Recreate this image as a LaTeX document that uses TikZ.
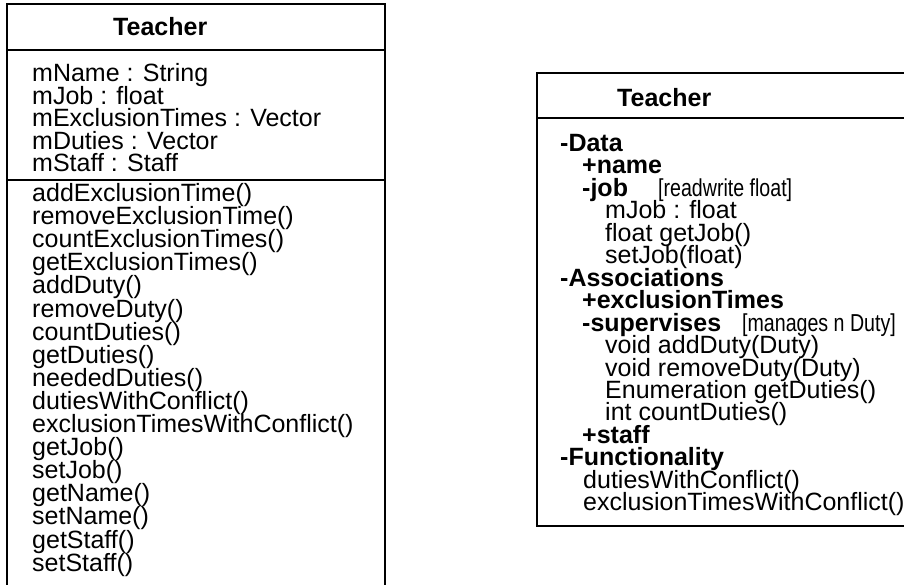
\documentclass[tikz,border=0pt]{standalone}
\usepackage{fontspec}
\setmainfont{Liberation Sans}
\newfontfamily\narrowfont[FakeStretch=0.8]{Liberation Sans}
\usetikzlibrary{positioning}

\begin{document}
\begin{tikzpicture}[
    x=1pt, y=-1pt,
    box/.style={draw, line width=1.3pt},
    member/.style={font=\fontsize{25}{22.5}\selectfont, anchor=base west, inner sep=0pt},
    classname/.style={member, font=\fontsize{25}{22.5}\selectfont\bfseries},
    note/.style={member, font=\fontsize{24.5}{22.5}\selectfont\narrowfont},
]
    \clip (0,0) rectangle (904,584);

    % Left class: plain attributes and operations
    \draw[box] (7,4) rectangle (385,620);
    \draw[box] (7,50) -- (385,50);
    \draw[box] (7,180) -- (385,180);
    \node[classname] (lname) at (113,35.5) {Teacher};
    \foreach \txt [count=\i] in {mName : String, mJob : float,
        mExclusionTimes : Vector, mDuties : Vector, mStaff : Staff}
        \node[member] (lattr\i) at (32,{81.5+(\i-1)*22.5}) {\txt};
    \foreach \txt [count=\i] in {addExclusionTime(), removeExclusionTime(),
        countExclusionTimes(), getExclusionTimes(), addDuty(), removeDuty(),
        countDuties(), getDuties(), neededDuties(), dutiesWithConflict(),
        exclusionTimesWithConflict(), getJob(), setJob(), getName(),
        setName(), getStaff(), setStaff()}
        \node[member] (lop\i) at (32,{201.5+(\i-1)*23.1}) {\txt};

    % Right class: grouped members
    \draw[box] (537,73) rectangle (930,526);
    \draw[box] (537,118) -- (930,118);
    \node[classname] (rname) at (617,106) {Teacher};
    \foreach \dx/\txt [count=\i] in {
        560/{\bfseries -Data}, 582/{\bfseries +name}, 582/{\bfseries -job},
        605/{mJob : float}, 605/{float getJob()}, 605/{setJob(float)},
        560/{\bfseries -Associations}, 582/{\bfseries +exclusionTimes},
        582/{\bfseries -supervises}, 605/{void addDuty(Duty)},
        605/{void removeDuty(Duty)}, 605/{Enumeration getDuties()},
        605/{int countDuties()}, 582/{\bfseries +staff},
        560/{\bfseries -Functionality}, 583/{dutiesWithConflict()},
        583/{exclusionTimesWithConflict()}}
        \node[member] (rm\i) at (\dx,{151.5+(\i-1)*22.45}) {\txt};
    \node[note] (jobnote) at (658,{151.5+2*22.45}) {[readwrite float]};
    \node[note] (dutynote) at (742,{151.5+8*22.45}) {[manages n Duty]};
\end{tikzpicture}
\end{document}
